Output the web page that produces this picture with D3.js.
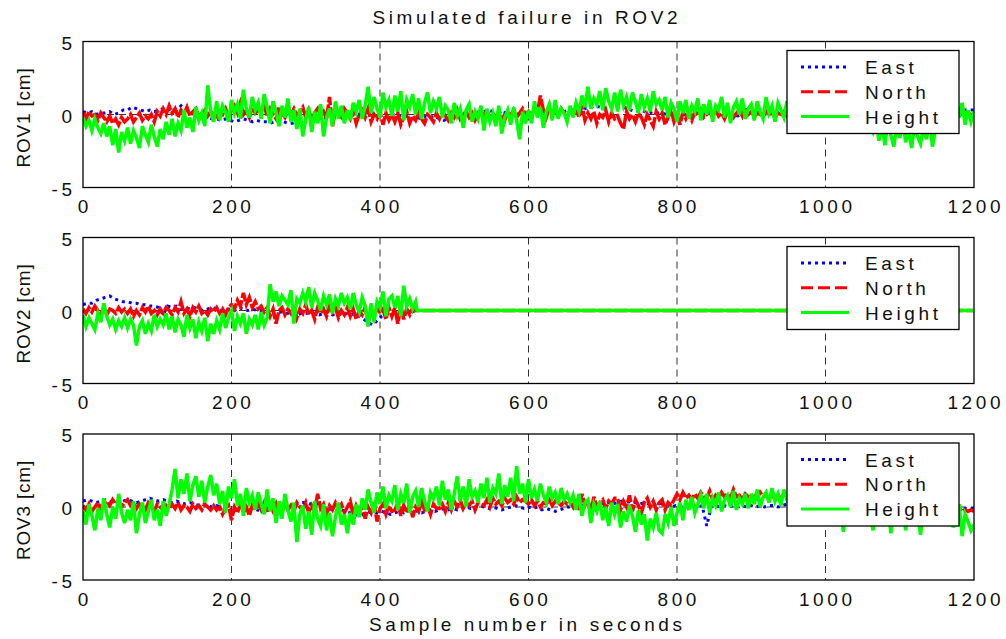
<!DOCTYPE html>
<html><head><meta charset="utf-8">
<script src="https://cdn.jsdelivr.net/npm/d3@7"></script>
<style>
html,body{margin:0;padding:0;background:#fff;}
svg{display:block;font-family:"Liberation Sans",Arial,sans-serif;}
</style></head><body>
<svg id="chart" width="1006" height="639"></svg>
<script>
// ---- data -------------------------------------------------------------
const eastStep = 6;                         // seconds between stored East samples
const fineStep = 4;                         // seconds between stored North / Height samples
const xTicks = [0, 200, 400, 600, 800, 1000, 1200];
const yTicks = [-5, 0, 5];
const seriesNames = ["East", "North", "Height"];
const panelLabels = ["ROV1 [cm]", "ROV2 [cm]", "ROV3 [cm]"];
const titleText = "Simulated failure in ROV2";
const xLabelText = "Sample number in seconds";
const rov2FailureStart = 450;               // ROV2 output frozen from here on
const rov2FailureEnd = 1200;
const rov2FailureLevel = 0;

const rov1East = [
  0.2,0.1,0.2,0.0,0.1,0.1,0.2,0.0,0.1,0.3,
  0.3,0.5,0.4,0.3,0.2,0.3,0.2,0.3,0.4,0.3,
  0.4,0.3,0.6,0.2,0.1,0.0,-0.1,-0.2,-0.2,-0.3,
  -0.3,-0.4,-0.3,-0.4,-0.5,-0.4,-0.3,-0.4,-0.5,-0.4,
  -0.5,-0.5,-0.6,-0.5,-0.4,-0.5,-0.6,-0.6,-0.5,-0.6,
  -0.5,-0.4,-0.3,-0.3,-0.2,-0.3,-0.2,-0.1,-0.2,-0.1,
  -0.1,0.0,0.0,0.1,0.1,0.0,0.1,0.0,-0.1,0.0,
  0.0,-0.1,0.0,-0.2,-0.3,-0.2,-0.3,-0.1,-0.2,-0.1,
  -0.3,-0.4,-0.3,-0.2,-0.1,0.0,0.0,0.1,0.1,0.2,
  0.2,0.3,0.2,0.1,0.2,0.1,0.0,0.1,0.0,-0.1,
  0.0,-0.1,0.0,0.1,0.0,0.1,0.2,0.1,0.2,0.3,
  0.3,0.4,0.5,0.4,0.5,0.6,0.5,0.4,0.5,0.6,
  0.5,0.4,0.5,0.3,0.2,0.3,0.2,0.1,0.2,0.1,
  0.1,0.0,0.1,0.0,-0.1,0.0,-0.1,0.0,0.1,0.0,
  0.1,0.2,0.1,0.0,-0.1,-0.1,0.0,-0.1,0.0,0.1,
  0.1,0.2,0.1,0.0,0.1,0.2,0.1,0.2,0.2,0.1,
  0.1,0.2,0.1,0.2,0.1,0.0,0.1,0.2,0.1,0.2,
  0.2,0.1,0.2,0.3,0.2,0.1,0.2,0.1,0.2,0.3,
  0.2,0.3,0.2,0.1,0.2,0.3,0.2,0.3,0.2,0.3,
  0.3,0.2,0.3,0.4,0.3,0.2,0.3,0.4,0.3,0.3,
  0.3
];
const rov1North = [
  0.1,-0.3,0.2,-0.1,0.0,-0.4,0.1,-0.2,-0.5,-0.1,-0.6,-0.3,-0.7,-0.2,-0.5,
  -0.3,0.0,-0.5,-0.2,0.1,-0.4,-0.1,-0.3,0.0,-0.5,0.2,-0.1,0.4,0.0,0.6,
  0.1,0.4,-0.2,0.3,0.0,0.5,-0.1,0.2,0.4,-0.2,0.1,0.3,-0.1,0.2,0.0,
  -0.3,0.2,0.0,0.4,-0.2,0.3,0.6,0.1,0.8,0.0,0.3,-0.2,0.5,0.1,0.3,
  0.2,0.6,-0.1,0.4,0.0,-0.3,0.5,0.1,-0.2,0.3,0.0,0.4,-0.1,0.2,0.5,
  -0.2,0.3,-0.4,0.1,0.4,-0.1,0.2,-0.3,1.2,-0.8,0.3,0.0,-0.2,0.4,0.1,
  -0.3,0.2,-0.6,0.0,0.3,-0.2,0.4,-0.5,0.0,-0.3,0.2,-0.7,0.1,-0.4,0.0,
  -0.5,0.1,-0.7,-0.2,0.2,-0.6,-0.1,-0.4,0.1,-0.3,-0.6,0.0,-0.2,-0.5,0.1,
  -0.3,0.2,-0.1,-0.4,0.1,-0.2,0.3,-0.3,0.0,0.2,-0.2,0.1,-0.4,0.0,0.2,
  -0.1,0.3,-0.3,0.1,-0.2,0.2,0.0,-0.4,0.2,-0.1,0.3,-0.2,0.1,0.4,0.0,
  0.2,-0.1,0.4,0.1,1.3,0.3,-0.2,0.5,0.0,0.2,-0.1,0.4,0.1,-0.2,0.3,
  0.0,0.4,-0.2,0.6,-0.4,0.1,-0.3,0.2,-0.6,0.0,-0.2,0.3,-0.5,0.1,-0.3,
  -0.1,-0.6,-1.0,0.2,-0.3,0.0,-0.5,0.1,-0.2,-0.7,0.0,-0.4,-0.8,0.2,-0.3,
  0.1,-0.7,-0.2,0.3,-0.5,0.0,-0.7,0.2,-0.3,0.1,-0.4,0.2,-0.1,0.3,-0.2,
  0.0,0.2,-0.2,0.3,-0.1,0.1,-0.3,0.2,0.0,-0.2,0.1,0.3,-0.1,0.5,0.0,
  0.2,-0.2,0.1,0.0,-0.1,0.2,0.0,0.1,-0.2,0.1,0.0,0.2,-0.1,0.0,0.1,
  0.1,-0.1,0.2,0.0,-0.2,0.1,0.0,-0.1,0.2,0.0,0.1,-0.1,0.0,0.2,-0.1,
  -0.1,0.1,0.0,0.2,-0.1,0.0,0.1,-0.2,0.0,0.1,-0.1,0.2,0.0,-0.1,0.1,
  0.0,-0.1,0.1,0.0,-0.2,0.1,0.0,0.2,-0.1,0.0,0.1,-0.1,0.2,0.0,-0.1,
  0.1,0.0,-0.1,0.1,0.0,0.2,-0.1,0.0,0.1,0.0,-0.1,0.1,0.0,0.1,0.0,
  0.0
];
const rov1Height = [
  -0.2,-0.8,-0.4,-1.1,-0.3,-0.9,-1.3,-0.6,-1.5,-0.8,-2.1,-1.0,-2.6,-1.2,-1.8,
  -0.9,-2.0,-1.1,-1.6,-2.3,-0.8,-1.4,-1.9,-0.7,-1.5,-2.2,-1.0,-1.7,-0.5,-1.4,
  -0.3,-1.5,-0.6,-1.1,0.3,-0.9,-0.2,-1.2,0.5,-0.4,0.1,-0.8,2.0,0.2,-0.5,
  0.9,-0.4,0.6,0.2,-0.5,1.0,0.1,0.7,-0.3,1.7,0.4,-0.2,1.2,0.3,0.8,
  -0.3,1.4,0.5,-0.6,0.9,0.2,-0.8,0.6,-0.2,1.1,-0.5,0.3,-1.0,0.4,-1.5,
  -0.3,0.5,-1.2,0.2,-0.6,0.7,-1.5,-0.2,0.4,-0.8,0.9,-0.3,0.6,-0.6,0.3,
  -0.4,0.8,0.2,1.0,-0.3,0.6,1.9,0.1,1.2,0.4,-0.2,1.5,0.5,1.0,-0.1,
  1.3,0.2,1.6,-0.4,1.0,0.5,1.4,0.0,1.1,-0.3,0.8,1.5,0.1,0.9,0.4,
  1.2,-0.2,0.6,0.3,-0.6,0.8,-0.1,0.4,-0.9,0.3,0.7,-0.5,0.2,-0.3,0.6,
  -1.1,0.4,-0.5,0.1,-0.8,0.6,-1.3,-0.2,0.3,-0.7,0.5,-0.4,-1.7,0.2,-0.6,
  0.3,-0.6,0.9,-0.2,0.5,-0.9,0.2,0.7,-0.4,1.0,-0.3,0.4,0.1,-0.5,0.6,
  -0.2,0.8,0.2,1.3,0.5,1.9,0.4,1.1,0.7,1.6,0.3,1.8,0.9,0.4,1.5,
  0.2,1.7,0.6,1.2,0.3,1.5,0.9,0.1,1.4,0.5,1.1,0.2,1.6,0.7,1.0,
  0.3,1.2,-0.2,0.8,0.4,-0.5,0.9,0.1,1.0,-0.3,0.6,0.2,1.1,-0.4,0.7,
  0.0,1.0,-0.5,0.6,0.3,1.2,-0.2,0.8,-0.6,0.5,0.9,0.0,1.1,-0.3,0.4,
  0.7,-0.4,0.9,0.2,-0.3,1.2,0.1,0.6,-0.5,0.8,0.3,-0.2,0.9,0.0,0.5,
  -0.4,0.6,0.1,-0.6,0.8,-0.2,0.4,-0.8,0.3,0.5,-0.3,0.7,-0.5,0.2,-0.1,
  0.4,-0.6,0.2,-0.9,-0.1,0.3,-0.8,-0.3,-1.1,0.0,-0.7,-1.2,-0.4,-1.8,-0.6,
  -2.1,-0.5,-1.4,-2.2,-0.8,-1.6,-0.3,-1.9,-1.1,-2.3,-0.7,-1.5,-2.0,-0.9,-1.7,
  -0.4,-2.2,-1.0,-0.3,-1.3,0.2,-0.8,0.4,-0.6,0.6,-0.2,0.8,-0.7,0.3,-0.5,
  0.2
];

// ROV2 until the failure (East 0..450 s, North/Height 0..448 s)
const rov2East = [
  0.4,0.5,0.5,0.7,0.8,0.9,1.0,0.8,0.7,0.6,
  0.6,0.5,0.5,0.4,0.4,0.3,0.3,0.2,-0.3,0.3,
  0.2,0.3,0.1,0.2,0.1,0.2,0.1,0.0,0.1,0.2,
  0.1,0.0,0.1,0.1,0.0,0.2,0.1,0.0,0.1,0.0,
  0.0,-0.1,0.0,-0.2,-0.1,-0.1,-0.2,-0.1,-0.3,-0.2,
  -0.2,-0.1,-0.2,-0.3,-0.2,-0.1,-0.3,-0.2,-0.1,-0.2,
  -0.3,-0.2,-0.4,-0.6,-0.8,-1.0,-0.7,-0.4,-0.2,-0.1,
  0.0,-0.1,0.1,0.0,-0.1,0.0
];
const rov2North = [
  0.1,-0.2,0.2,-0.1,0.3,0.0,-0.2,0.2,-0.3,0.1,0.0,-0.2,0.2,-0.1,0.1,
  -0.2,0.1,-0.4,0.0,-0.3,0.2,-0.1,0.3,-0.2,0.0,-0.3,0.1,-0.2,0.2,0.0,
  -0.3,0.2,-0.1,0.6,-0.2,0.1,-0.4,0.2,-0.1,0.3,-0.2,0.0,-0.3,0.1,-0.1,
  0.2,-0.2,0.1,-0.3,0.2,0.4,0.1,0.7,0.3,1.2,0.4,0.9,0.2,0.6,0.1,
  0.3,-0.1,0.2,-0.4,0.1,-0.9,0.0,0.2,-0.3,0.1,-0.2,0.3,-0.5,0.1,-0.2,
  0.4,-0.3,0.0,-0.6,0.2,-0.2,0.1,-0.4,0.3,-0.1,0.2,-0.5,0.0,-0.3,0.2,
  -0.4,0.1,-0.6,0.0,-0.3,0.2,-0.8,0.1,-0.5,0.3,-0.2,0.1,-0.6,0.2,-0.4,
  0.2,-0.9,0.3,-0.6,0.1,-0.3,0.2,0.0
];
const rov2Height = [
  -0.3,-1.1,-0.5,-0.9,-1.3,-0.2,-0.8,0.5,-0.4,-1.0,-0.6,-1.3,-0.7,-1.1,-0.5,
  -1.2,-0.6,-1.0,-2.4,-1.1,-0.7,-1.6,-0.9,-1.4,-0.3,-1.1,-0.6,-1.0,-0.2,-1.3,
  -0.4,-1.5,-0.6,-1.0,-1.8,-0.3,-1.2,-0.6,-1.9,-0.8,-1.4,-0.5,-2.1,-0.9,-1.6,
  -0.7,-1.3,-0.2,-1.2,-0.5,0.0,-1.4,-0.4,-0.9,-0.2,-1.6,-0.6,-1.0,-0.3,-1.3,
  -0.1,-1.0,-0.5,1.8,0.6,1.3,0.3,1.0,0.7,0.4,1.4,-0.9,0.8,0.5,1.2,
  0.6,1.6,0.2,1.2,0.7,0.0,1.0,0.4,1.1,-0.2,0.8,0.3,1.2,0.5,0.9,
  0.1,1.2,0.4,-0.1,0.9,0.3,-1.1,0.5,-0.8,0.6,0.2,1.3,-0.4,0.8,1.0,
  0.2,1.0,-0.4,1.7,0.3,0.8,0.1,0.6
];

const rov3East = [
  0.4,0.5,0.4,0.3,0.4,0.5,0.4,0.3,0.4,0.4,
  0.5,0.4,0.3,0.4,0.5,0.6,0.5,0.4,0.5,0.4,
  0.3,0.4,0.3,0.2,0.3,0.2,0.1,0.2,0.1,0.0,
  0.1,0.0,-0.1,-0.2,-0.1,-0.2,-0.3,-0.2,-0.1,-0.2,
  -0.3,-0.2,-0.1,-0.2,-0.3,-0.1,0.0,0.1,0.2,0.3,
  0.3,0.2,0.3,0.1,0.0,-0.1,-0.2,-0.3,-0.2,-0.3,
  -0.4,-0.5,-0.6,-0.5,-0.4,-0.3,-0.4,-0.3,-0.4,-0.5,
  -0.4,-0.3,-0.4,-0.3,-0.2,-0.3,-0.4,-0.3,-0.2,-0.3,
  -0.2,-0.1,-0.2,-0.1,-0.2,-0.1,0.0,-0.1,0.0,0.1,
  0.0,-0.1,0.0,-0.1,-0.2,-0.1,0.0,0.1,0.0,-0.1,
  0.0,-0.1,0.0,-0.2,-0.1,-0.2,-0.3,-0.2,-0.1,0.0,
  0.1,0.2,0.1,0.2,0.3,0.2,0.3,0.2,0.3,0.2,
  0.3,0.4,0.3,0.4,0.3,0.2,0.3,0.2,0.1,0.3,
  0.2,0.1,0.0,0.1,0.0,0.1,0.0,0.1,0.0,0.1,
  -1.3,0.0,0.1,0.0,0.1,0.0,0.1,0.0,0.1,0.0,
  0.1,0.0,0.1,0.0,0.1,0.1,0.0,0.1,0.2,0.1,
  0.2,0.1,0.2,0.3,0.2,0.3,0.2,0.3,0.2,0.3,
  0.3,0.2,0.3,0.4,0.3,0.2,0.3,0.2,0.3,0.2,
  0.2,0.1,0.2,0.1,0.2,0.1,0.0,0.1,0.0,0.1,
  0.0,0.1,0.0,-0.1,0.0,-0.1,0.0,-0.1,-0.1,-0.1,
  -0.1
];
const rov3North = [
  0.1,-0.2,0.2,-0.3,0.0,0.3,-0.1,0.2,0.4,0.1,0.5,0.2,0.4,0.0,0.3,
  0.5,0.1,0.3,-0.1,0.2,0.0,-0.2,0.3,0.1,-0.3,0.2,0.0,-0.2,0.1,-0.1,
  0.2,-0.1,0.3,-0.2,0.1,0.0,-0.3,0.2,-0.1,0.1,-0.2,0.2,0.0,-0.2,0.1,
  -0.2,0.0,-0.5,-0.1,0.1,-0.9,0.0,-0.4,0.2,-0.3,0.0,-0.6,0.1,-0.2,0.2,
  -0.2,0.3,-0.4,0.1,-0.3,0.2,-0.5,0.0,0.4,-0.2,0.1,-0.3,0.3,0.0,-0.2,
  0.3,-0.4,0.1,-0.3,0.9,-0.1,0.2,-0.5,0.1,-0.2,0.3,-0.1,0.2,-0.4,0.0,
  0.4,-0.6,0.1,-0.3,0.2,-0.8,0.0,-0.4,0.3,-1.0,-0.1,0.2,-0.5,0.1,-0.3,
  -0.2,0.3,-0.6,0.1,-0.4,0.2,-0.7,0.0,-0.3,0.4,-0.2,0.1,-0.5,0.2,-0.1,
  -0.1,0.2,-0.3,0.3,-0.2,0.4,0.0,0.5,-0.1,0.3,0.1,0.4,-0.2,0.3,0.2,
  0.1,0.5,0.0,0.6,0.2,0.4,0.1,0.6,0.3,0.5,0.2,0.7,0.3,0.5,0.4,
  0.2,0.5,0.1,0.4,0.0,0.3,0.2,0.5,0.1,0.4,0.3,0.1,0.4,0.2,0.3,
  0.0,0.6,-0.2,0.9,0.1,0.5,-0.4,0.7,0.0,0.3,0.5,-0.1,0.4,0.2,0.6,
  0.6,-0.2,0.4,0.0,0.8,-0.3,0.5,0.1,-0.4,0.3,0.6,0.0,0.4,-0.2,0.3,
  0.5,-0.2,0.3,0.1,0.5,0.9,0.5,1.0,0.6,0.8,0.5,0.9,0.6,1.0,0.7,
  0.6,1.1,0.5,0.8,0.6,1.0,0.7,0.9,0.6,1.2,0.7,0.8,0.5,0.9,0.7,
  0.7,0.9,0.6,1.0,0.7,0.8,0.6,0.9,0.5,0.8,0.6,0.9,0.7,0.8,0.6,
  0.6,0.7,0.5,0.8,0.4,0.6,0.5,0.7,0.4,0.6,0.5,0.7,0.4,0.5,0.6,
  0.3,0.5,0.4,0.2,0.4,0.3,0.1,0.3,0.2,0.4,0.3,0.2,0.3,0.1,0.2,
  0.1,0.3,0.0,0.2,0.1,-0.1,0.2,0.0,0.1,-0.1,0.0,0.1,-0.1,0.0,0.1,
  0.0,0.1,-0.1,0.0,-0.2,0.1,-0.1,-0.2,-0.3,-0.2,-0.1,-0.3,-0.2,-0.3,-0.2,
  -0.3
];
const rov3Height = [
  -0.3,-1.2,0.2,-0.6,-1.6,-0.1,-0.9,0.6,-0.5,-1.4,0.0,-0.8,0.9,-0.4,-1.1,
  -0.2,-0.9,0.4,-1.8,-0.5,0.3,-1.1,-0.3,0.5,-0.9,-0.2,-1.3,0.4,-0.6,0.2,
  1.2,2.6,0.6,1.9,0.9,2.3,0.4,1.5,2.1,0.7,1.8,0.3,1.4,2.2,0.8,
  1.6,0.2,1.1,-0.4,1.4,0.6,1.9,0.1,0.9,-0.6,1.3,0.3,0.8,-0.2,1.0,
  0.2,-0.5,1.2,-0.3,0.6,-1.1,0.4,-0.8,0.9,-0.2,-1.0,0.3,-2.4,-0.5,0.1,
  -1.5,-0.3,-1.9,0.4,-0.8,-1.3,0.2,-1.6,-0.4,-2.0,-0.7,0.3,-1.2,-0.5,-1.8,
  -0.4,-1.2,0.2,-0.7,0.6,-0.2,1.2,0.3,-0.4,1.0,0.2,1.4,-0.1,0.8,0.4,
  1.5,-0.2,0.9,0.3,1.6,-0.4,0.7,1.1,0.0,1.3,0.4,-0.3,1.0,0.6,1.4,
  0.1,1.8,0.5,1.2,-0.2,0.9,2.1,0.4,1.4,0.0,1.9,0.7,1.1,0.3,1.6,
  0.6,2.0,0.3,1.3,0.9,2.3,0.2,1.5,0.7,2.0,0.4,2.8,0.9,1.6,0.3,
  1.9,0.6,1.2,0.4,1.6,0.8,0.3,1.4,0.6,1.0,0.2,1.3,0.5,0.9,0.3,
  0.8,-0.2,0.9,-0.6,0.3,0.5,-1.1,0.2,-0.3,0.4,-0.9,0.0,-1.3,0.3,-0.5,
  0.2,-1.4,-0.3,-1.0,0.1,-0.6,-1.7,-0.2,-1.2,-0.5,-2.3,-0.8,-1.4,-0.4,-1.6,
  -1.8,-0.5,-1.1,0.0,-1.3,-0.4,0.3,-0.9,0.5,-0.2,0.7,-0.4,0.2,0.8,-0.1,
  0.9,-0.4,0.6,0.1,1.0,-0.3,0.5,0.8,0.0,1.1,-0.2,0.6,0.2,0.9,-0.1,
  0.9,0.2,1.2,0.0,0.7,1.0,0.3,1.3,0.4,0.9,0.1,1.2,0.5,0.8,0.2,
  1.0,-0.3,0.8,0.0,0.6,-0.5,0.9,-0.2,0.7,0.1,-0.4,0.5,0.0,0.8,-0.6,
  0.5,-1.7,0.4,-0.8,0.6,-0.2,-1.2,0.2,-0.6,0.5,-0.3,-1.6,0.1,-0.5,0.3,
  -0.9,0.3,-1.8,0.1,-0.7,0.4,-0.2,-1.6,0.2,-1.0,0.3,-0.4,-1.9,0.0,-0.6,
  0.5,-0.8,0.2,-1.1,-0.2,0.3,-0.6,0.1,-1.4,-0.3,0.2,-2.0,-0.5,-1.0,-1.6,
  -1.2
];

// ---- drawing ----------------------------------------------------------
const withStep = step => vals => vals.map((v, i) => [i * step, v]);
const frozen = [[rov2FailureStart, rov2FailureLevel], [rov2FailureEnd, rov2FailureLevel]];

const panels = [
  { label: panelLabels[0],
    series: [withStep(eastStep)(rov1East), withStep(fineStep)(rov1North), withStep(fineStep)(rov1Height)] },
  { label: panelLabels[1],
    series: [withStep(eastStep)(rov2East), withStep(fineStep)(rov2North), withStep(fineStep)(rov2Height)]
              .map(s => s.concat(frozen)) },
  { label: panelLabels[2],
    series: [withStep(eastStep)(rov3East), withStep(fineStep)(rov3North), withStep(fineStep)(rov3Height)] }
];

// plot strokes (dense traces) and legend samples
const lineStyles = [
  { color: "#0000ff", width: 3,   dash: "3,4",  legendDash: "3,4" },
  { color: "#ff0000", width: 3.5, dash: "14,2", legendDash: "12,5" },
  { color: "#00ff00", width: 3.5, dash: null,   legendDash: null }
];

const svg = d3.select("#chart");
const x = d3.scaleLinear().domain([0, 1200]).range([83, 974]);
const panelTops = [41.5, 237.5, 434];
const panelH = 146;
const fontSize = 19;
const ls = 3.6;

svg.append("text")
  .attr("x", 525 + ls / 2).attr("y", 24)
  .attr("text-anchor", "middle")
  .attr("font-size", fontSize).attr("letter-spacing", ls)
  .attr("fill", "#111")
  .text(titleText);

svg.append("text")
  .attr("x", 525.5 + ls / 2).attr("y", 631)
  .attr("text-anchor", "middle")
  .attr("font-size", fontSize).attr("letter-spacing", ls)
  .attr("fill", "#111")
  .text(xLabelText);

panels.forEach((p, pi) => {
  const top = panelTops[pi];
  const y = d3.scaleLinear().domain([-5, 5]).range([top + panelH, top]);
  const g = svg.append("g");

  const clipId = "clip" + pi;
  svg.append("clipPath").attr("id", clipId)
    .append("rect").attr("x", x(0)).attr("y", top).attr("width", x(1200) - x(0)).attr("height", panelH);

  // grid
  g.selectAll("line.vgrid").data(xTicks.slice(1, -1)).join("line")
    .attr("x1", d => x(d)).attr("x2", d => x(d))
    .attr("y1", top).attr("y2", top + panelH)
    .attr("stroke", "#333").attr("stroke-width", 1).attr("stroke-dasharray", "7,5");
  g.selectAll("line.hgrid").data(yTicks.slice(1, -1)).join("line")
    .attr("x1", x(0)).attr("x2", x(1200))
    .attr("y1", d => y(d)).attr("y2", d => y(d))
    .attr("stroke", "#333").attr("stroke-width", 1).attr("stroke-dasharray", "7,5");

  // series
  const line = d3.line().x(d => x(d[0])).y(d => y(d[1]));
  const dg = g.append("g").attr("clip-path", `url(#${clipId})`);
  p.series.forEach((s, si) => {
    dg.append("path")
      .attr("d", line(s))
      .attr("fill", "none")
      .attr("stroke", lineStyles[si].color)
      .attr("stroke-width", lineStyles[si].width)
      .attr("stroke-linejoin", "miter")
      .attr("stroke-miterlimit", 4)
      .attr("stroke-dasharray", lineStyles[si].dash);
  });

  // frame
  g.append("rect")
    .attr("x", x(0)).attr("y", top)
    .attr("width", x(1200) - x(0)).attr("height", panelH)
    .attr("fill", "none").attr("stroke", "#000").attr("stroke-width", 1.3);

  // tick labels
  g.selectAll("text.xt").data(xTicks).join("text")
    .attr("x", d => x(d) + ls / 2).attr("y", top + panelH + 25.5)
    .attr("text-anchor", "middle")
    .attr("font-size", fontSize).attr("letter-spacing", ls).attr("fill", "#111")
    .text(d => d);
  g.selectAll("text.yt").data(yTicks).join("text")
    .attr("x", 72 + ls).attr("y", d => y(d) + 8)
    .attr("text-anchor", "end")
    .attr("font-size", fontSize).attr("letter-spacing", ls).attr("fill", "#111")
    .text(d => d);

  // axis label
  g.append("text")
    .attr("transform", `translate(30,${top + panelH / 2 + 3}) rotate(-90)`)
    .attr("text-anchor", "middle")
    .attr("font-size", fontSize).attr("letter-spacing", 0.8).attr("fill", "#111")
    .text(p.label);

  // legend
  const lx = 787, ly = top + 9, lw = 172, lh = 83;
  const lg = g.append("g");
  lg.append("rect").attr("x", lx).attr("y", ly).attr("width", lw).attr("height", lh)
    .attr("fill", "#fff").attr("stroke", "#000").attr("stroke-width", 1.3);
  seriesNames.forEach((name, si) => {
    const ry = ly + 16.5 + si * 24.8;
    lg.append("line")
      .attr("x1", 801).attr("x2", 849).attr("y1", ry).attr("y2", ry)
      .attr("stroke", lineStyles[si].color).attr("stroke-width", 3)
      .attr("stroke-dasharray", lineStyles[si].legendDash);
    lg.append("text")
      .attr("x", 865).attr("y", ry + 7)
      .attr("font-size", fontSize).attr("letter-spacing", ls).attr("fill", "#111")
      .text(name);
  });
});
</script>
</body></html>
